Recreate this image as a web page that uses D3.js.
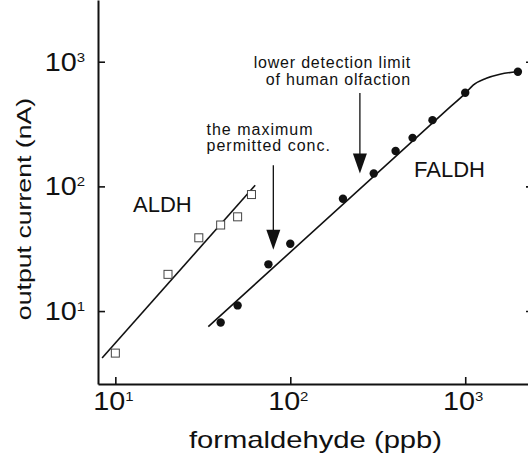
<!DOCTYPE html>
<html>
<head>
<meta charset="utf-8">
<script src="https://cdn.jsdelivr.net/npm/d3@7"></script>
<style>
body { margin: 0; background: #fff; }
text { font-family: "Liberation Sans", Arial, sans-serif; fill: #111; }
</style>
</head>
<body>
<div class="chart"></div>
<script>
// ALDH : carrés vides
var aldhX = [10, 20, 30, 40, 50, 60];
var aldhY = [4.6, 19.7, 38.7, 49, 57, 86];
// FALDH : points pleins
var faldhX = [40, 50, 75, 100, 200, 300, 400, 500, 650, 1000, 2000];
var faldhY = [8.1, 11.1, 23.7, 34.7, 79.5, 127, 192, 245, 340, 564, 831];
// droites / courbe d'ajustement
var aldhFitX = [8.4, 63];
var aldhFitY = [4.2, 102];
var faldhFitX = [34, 800, 1000, 1110, 1320, 1580, 1980];
var faldhFitY = [7.5, 420, 557, 650, 736, 793, 832];
// flèches : position en ppb, haut et pointe en nA
var arrowX = [80, 250];
var arrowTop = [148, 560];
var arrowTip = [31, 127];
// graduations
var tickValues = [10, 100, 1000];
var tickExp = ["1", "2", "3"];

var width = 528, height = 455;
var gauche = 98, droite = 533, haut = 0, bas = 384;

var svg = d3.select(".chart").append("svg")
	.attr("width", width)
	.attr("height", height);

var x = d3.scaleLog().domain([7.96, 2440]).range([gauche, droite]);
var y = d3.scaleLog().domain([2.6, 3126]).range([bas, haut]);

//axes (ticks vers l'intérieur)
function styleAxis(g) {
	g.select(".domain").attr("stroke", "#111").attr("stroke-width", 2);
	g.selectAll(".tick line").attr("stroke", "#111").attr("stroke-width", 1.6);
}
svg.append("g")
	.attr("transform", "translate(0," + bas + ")")
	.call(d3.axisBottom(x).tickValues(tickValues).tickSize(-7).tickSizeOuter(0).tickFormat(""))
	.call(styleAxis);
svg.append("g")
	.attr("transform", "translate(" + gauche + ",0)")
	.call(d3.axisLeft(y).tickValues(tickValues).tickSize(-7).tickSizeOuter(0).tickFormat(""))
	.call(styleAxis);
svg.append("g")
	.attr("transform", "translate(" + droite + ",0)")
	.call(d3.axisRight(y).tickValues(tickValues).tickSize(-7).tickSizeOuter(0).tickFormat(""))
	.call(styleAxis);

//étiquettes 10^n
function powLabel(px, py, exp, anchor) {
	var t = svg.append("g")
		.attr("transform", "translate(" + px + "," + py + ") scale(1.15,1)")
		.append("text")
		.attr("text-anchor", anchor)
		.style("font-size", "25px");
	t.append("tspan").text("10");
	t.append("tspan").attr("dy", -9).style("font-size", "13px").text(exp);
}
tickValues.forEach(function (v, i) {
	powLabel(x(v) - 2, bas + 26, tickExp[i], "middle");
	powLabel(85, y(v) + 9, tickExp[i], "end");
});

//titres des axes
svg.append("g")
	.attr("transform", "translate(315.5,448) scale(1.27,1)")
	.append("text")
	.attr("text-anchor", "middle")
	.style("font-size", "23px")
	.text("formaldehyde (ppb)");
svg.append("g")
	.attr("transform", "translate(31,209) rotate(-90) scale(1.27,1)")
	.append("text")
	.attr("text-anchor", "middle")
	.style("font-size", "21px")
	.text("output current (nA)");

//courbes
var line = d3.line()
	.x(function (d) { return x(d[0]); })
	.y(function (d) { return y(d[1]); });

svg.append("path")
	.attr("d", line(d3.zip(aldhFitX, aldhFitY)))
	.attr("fill", "none")
	.attr("stroke", "#111")
	.attr("stroke-width", 1.6);

svg.append("path")
	.attr("d", line.curve(d3.curveMonotoneX)(d3.zip(faldhFitX, faldhFitY)))
	.attr("fill", "none")
	.attr("stroke", "#111")
	.attr("stroke-width", 1.6);

//points
svg.selectAll(".aldh")
	.data(d3.zip(aldhX, aldhY))
	.enter().append("rect")
	.attr("class", "aldh")
	.attr("x", function (d) { return x(d[0]) - 4; })
	.attr("y", function (d) { return y(d[1]) - 4; })
	.attr("width", 8)
	.attr("height", 8)
	.attr("fill", "#fff")
	.attr("stroke", "#444")
	.attr("stroke-width", 1);

svg.selectAll(".faldh")
	.data(d3.zip(faldhX, faldhY))
	.enter().append("circle")
	.attr("class", "faldh")
	.attr("cx", function (d) { return x(d[0]); })
	.attr("cy", function (d) { return y(d[1]); })
	.attr("r", 4.2)
	.attr("fill", "#111");

//flèches
arrowX.forEach(function (v, i) {
	var ax = x(v), ay0 = y(arrowTop[i]), ay1 = y(arrowTip[i]);
	svg.append("line")
		.attr("x1", ax).attr("x2", ax)
		.attr("y1", ay0).attr("y2", ay1 - 18)
		.attr("stroke", "#111")
		.attr("stroke-width", 1.3);
	svg.append("path")
		.attr("d", "M" + (ax - 7) + "," + (ay1 - 20) + "L" + (ax + 7) + "," + (ay1 - 20) + "L" + ax + "," + ay1 + "Z")
		.attr("fill", "#111");
});

//textes
svg.append("text").attr("x", 133).attr("y", 212).style("font-size", "22px").text("ALDH");
svg.append("text").attr("x", 414).attr("y", 177).style("font-size", "22px").text("FALDH");

var note1 = ["lower detection limit", "of human olfaction"];
var note2 = ["the maximum", "permitted conc."];
note1.forEach(function (s, i) {
	svg.append("text")
		.attr("x", 411).attr("y", 67.5 + i * 17)
		.attr("text-anchor", "end")
		.style("font-size", "16px")
		.style("letter-spacing", "0.8px")
		.text(s);
});
note2.forEach(function (s, i) {
	svg.append("text")
		.attr("x", 206.5).attr("y", 135 + i * 16)
		.style("font-size", "16px")
		.style("letter-spacing", "1px")
		.text(s);
});
</script>
</body>
</html>
